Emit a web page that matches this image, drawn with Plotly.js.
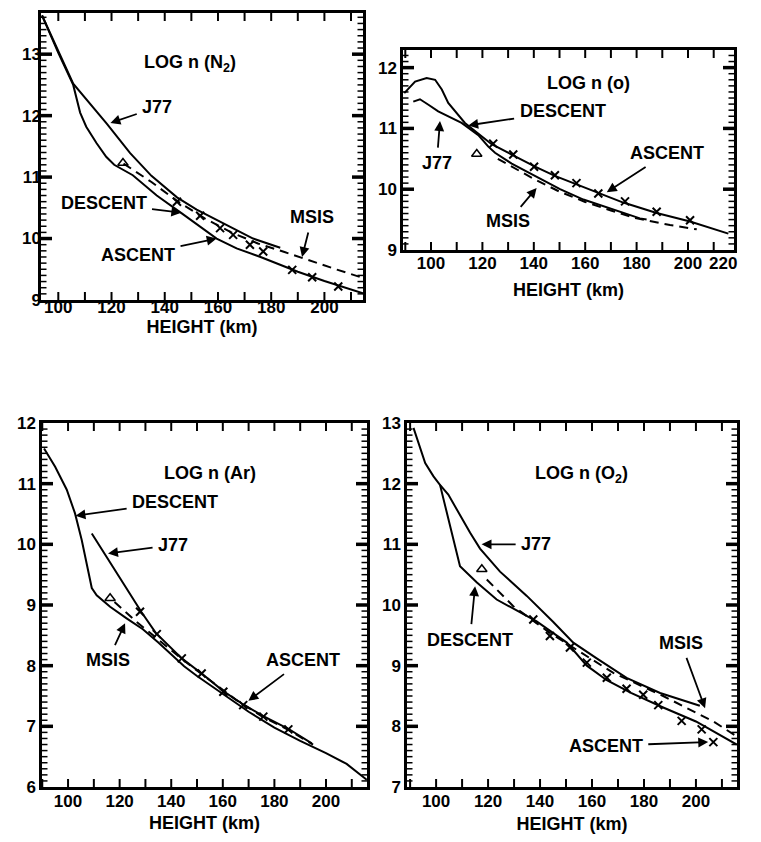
<!DOCTYPE html>
<html>
<head>
<meta charset="utf-8">
<script src="https://cdn.plot.ly/plotly-3.0.1.min.js"></script>
<style>
  html, body { margin: 0; padding: 0; background: #ffffff; }
  #chart { width: 761px; height: 842px; }
</style>
</head>
<body>
<div id="chart"></div>
<script>
// ---------------- DATA (height in km, log10 number density) ----------------
// Panel 1: LOG n(N2)
const n2DescentH = [93.9, 100, 105.6, 106.7, 108.2, 110.5, 114.4, 118, 121, 128, 137, 146.4, 153, 159.5, 167, 176, 190, 200, 214.5];
const n2DescentV = [13.63, 13.02, 12.5, 12.3, 12.05, 11.82, 11.55, 11.33, 11.2, 11.03, 10.7, 10.41, 10.2, 10.0, 9.84, 9.7, 9.46, 9.31, 9.11];
const n2J77H = [93.9, 100, 105.6, 118.2, 127, 135, 144.6, 152, 159.7, 173.2, 183.4];
const n2J77V = [13.63, 13.05, 12.52, 11.87, 11.39, 11.02, 10.67, 10.47, 10.3, 10.0, 9.85];
const n2MsisH = [124.5, 135, 145, 155, 165, 175, 185, 195, 205, 214.5];
const n2MsisV = [11.22, 10.92, 10.6, 10.33, 10.1, 9.92, 9.78, 9.63, 9.49, 9.36];
const n2AscentH = [144.6, 153.3, 160.8, 165.7, 172, 177, 187.9, 195.4, 205.2];
const n2AscentV = [10.6, 10.37, 10.17, 10.06, 9.9, 9.79, 9.49, 9.37, 9.22];
const n2TriH = [124.3];
const n2TriV = [11.23];

// Panel 2: LOG n(O)
const oDescentH = [89.6, 93.8, 98.3, 101.6, 104.2, 106.7, 113.2, 119.7, 123.6, 131.4, 140.5, 148.2, 156.7, 165.8, 174.8, 187.8, 200.8, 215.7];
const oDescentV = [11.58, 11.77, 11.83, 11.8, 11.64, 11.42, 11.09, 10.87, 10.74, 10.57, 10.37, 10.22, 10.08, 9.92, 9.78, 9.61, 9.47, 9.27];
const oJ77H = [93.1, 95.7, 99, 102.8, 111.9, 118.4, 122.3, 124.9, 131.4, 140.5, 150.2, 159.3, 169.6, 181.3, 183.9];
const oJ77V = [11.44, 11.48, 11.39, 11.28, 11.09, 10.89, 10.7, 10.6, 10.42, 10.22, 10.0, 9.83, 9.69, 9.52, 9.5];
const oMsisH = [126, 131, 140, 150, 160, 170, 180, 193, 203.4];
const oMsisV = [10.5, 10.38, 10.17, 9.96, 9.79, 9.65, 9.52, 9.41, 9.34];
const oAscentH = [124.2, 132, 140.1, 148.2, 156.6, 165.1, 175.5, 187.8, 200.8];
const oAscentV = [10.75, 10.57, 10.37, 10.23, 10.1, 9.93, 9.8, 9.63, 9.49];
const oTriH = [117.8];
const oTriV = [10.58];

// Panel 3: LOG n(Ar)
const arDescentH = [90.7, 95, 99.5, 102.7, 105.3, 107.2, 109.2, 111.1, 116.3, 122.7, 129, 135, 140, 145, 150, 160, 170, 180, 190, 200, 208, 215.8];
const arDescentV = [11.58, 11.28, 10.9, 10.51, 10.07, 9.69, 9.28, 9.16, 8.97, 8.78, 8.6, 8.38, 8.18, 7.99, 7.83, 7.54, 7.24, 6.98, 6.76, 6.56, 6.38, 6.12];
const arJ77H = [109.2, 115, 121.4, 128.5, 134, 144.1, 151.8, 160.2, 167.9, 175.7, 185.4, 194.5];
const arJ77V = [10.18, 9.8, 9.36, 8.88, 8.54, 8.12, 7.87, 7.58, 7.36, 7.17, 6.96, 6.72];
const arMsisH = [118, 126.6, 133, 145, 155, 165, 175, 185, 195];
const arMsisV = [9.05, 8.72, 8.5, 8.08, 7.76, 7.44, 7.17, 6.95, 6.7];
const arAscentH = [127.9, 134.4, 144.1, 151.8, 160.2, 167.9, 175.7, 185.4];
const arAscentV = [8.89, 8.52, 8.12, 7.87, 7.57, 7.35, 7.16, 6.95];
const arTriH = [116.3];
const arTriV = [9.11];

// Panel 4: LOG n(O2)
const o2DescentH = [91.3, 95.8, 99, 101.5, 109.2, 115.7, 123.3, 130, 138.7, 150.3, 158, 165.7, 175, 187.4, 200, 215.7];
const o2DescentV = [12.92, 12.34, 12.12, 11.98, 10.64, 10.37, 10.09, 9.93, 9.73, 9.38, 9.0, 8.76, 8.55, 8.31, 8.08, 7.7];
const o2J77H = [101.5, 104.7, 113.1, 116.9, 124.6, 134.9, 145.1, 152.8, 161.8, 173.3, 186.2, 201.5];
const o2J77V = [11.98, 11.82, 11.19, 10.93, 10.55, 10.15, 9.72, 9.38, 9.12, 8.8, 8.55, 8.34];
const o2MsisH = [119.5, 129.7, 143.8, 155.4, 168.2, 187.4, 206.7, 215.5];
const o2MsisV = [10.42, 9.98, 9.54, 9.22, 8.88, 8.5, 8.08, 7.84];
const o2AscentH = [137.4, 143.8, 151.5, 158, 165.7, 173.3, 179.7, 185.5, 194.5, 202.2, 206.7];
const o2AscentV = [9.76, 9.49, 9.3, 9.05, 8.8, 8.62, 8.52, 8.35, 8.09, 7.95, 7.74];
const o2TriH = [117.6];
const o2TriV = [10.59];

// Axis tick values / labels and texts
const xTickValues = [100, 120, 140, 160, 180, 200];
const xTickLabels = ['100', '120', '140', '160', '180', '200'];
const yTickValues = [6, 7, 8, 9, 10, 11, 12, 13];
const yTickLabels = ['6', '7', '8', '9', '10', '11', '12', '13'];
const panelTitles = ['LOG n (N<sub>2</sub>)', 'LOG n (o)', 'LOG n (Ar)', 'LOG n (O<sub>2</sub>)'];
const xTitle = 'HEIGHT (km)';

// ---------------- LAYOUT ----------------
const W = 761, H = 842, M = 1;
const FONT = 'Liberation Sans, Arial, sans-serif';
function dx(p) { return (p - M) / (W - 2 * M); }
function dy(p) { return 1 - (p - M) / (H - 2 * M); }
function bold(t) { return '<b>' + t + '</b>'; }

// frame pixel boxes, axis ranges, tick-label standoffs, axis-title standoff
const panels = [
  { px: [41, 363], py: [13, 300], xr: [93.5, 214.5], yr: [9, 13.67], xs: -10, ys: -6, ts: 0 },
  { px: [403, 734], py: [50, 250], xr: [89.1, 217.9], yr: [9, 12.29], xs: -4, ys: 0, ts: 12 },
  { px: [42, 367], py: [423, 787], xr: [89.9, 215.9], yr: [6, 12], xs: -3, ys: 0, ts: 7 },
  { px: [407, 737], py: [423, 787], xr: [88.8, 215.8], yr: [7, 13], xs: -3, ys: 0, ts: 8 }
];

const layout = {
  width: W, height: H,
  margin: { l: M, r: M, t: M, b: M },
  paper_bgcolor: '#ffffff',
  plot_bgcolor: '#ffffff',
  showlegend: false,
  font: { family: FONT, size: 17, color: '#000' },
  annotations: []
};

const data = [];

panels.forEach((p, i) => {
  const s = i === 0 ? '' : String(i + 1);
  layout['xaxis' + s] = {
    domain: [dx(p.px[0]), dx(p.px[1])], range: p.xr, anchor: 'y' + s,
    showline: true, linewidth: 2.5, linecolor: '#000', mirror: true,
    ticks: '', ticklabelstandoff: p.xs,
    tickvals: xTickValues, ticktext: xTickLabels.map(bold),
    showgrid: false, zeroline: false,
    tickfont: { family: FONT, size: 17, color: '#000' },
    title: { text: bold(xTitle), font: { family: FONT, size: 18, color: '#000' }, standoff: p.ts }
  };
  layout['yaxis' + s] = {
    domain: [dy(p.py[1]), dy(p.py[0])], range: p.yr, anchor: 'x' + s,
    showline: true, linewidth: 2.5, linecolor: '#000', mirror: true,
    ticks: '', ticklabelstandoff: p.ys,
    tickvals: yTickValues, ticktext: yTickLabels.map(bold),
    showgrid: false, zeroline: false,
    tickfont: { family: FONT, size: 17, color: '#000' }
  };

  // Inside tick marks on all four sides, drawn as short line segments from the frame inward.
  // Lengths are given in pixels and converted to data units with the axis scale.
  const xa = 'x' + s, ya = 'y' + s;
  const kx = (p.px[1] - p.px[0]) / (p.xr[1] - p.xr[0]);   // px per km
  const ky = (p.py[1] - p.py[0]) / (p.yr[1] - p.yr[0]);   // px per log unit
  const xt = [];
  for (let h = 90; h <= 220; h += 10) if (h > p.xr[0] && h < p.xr[1]) xt.push(h);
  const minorT = [], majorT = [];
  for (let k = Math.ceil(p.yr[0] * 10 + 1e-6); k <= Math.floor(p.yr[1] * 10 - 1e-6); k++) {
    if (k % 10 === 0) majorT.push(k / 10); else minorT.push(k / 10);
  }
  function segTrace(xs, ys, w) {
    data.push({ x: xs, y: ys, xaxis: xa, yaxis: ya, mode: 'lines', hoverinfo: 'skip',
      connectgaps: false, line: { color: '#000', width: w } });
  }
  function xTicks(lenPx, w) {
    const X = [], Y = [];
    const d = lenPx / ky;
    xt.forEach(h => {
      X.push(h, h, null); Y.push(p.yr[0], p.yr[0] + d, null);
      X.push(h, h, null); Y.push(p.yr[1], p.yr[1] - d, null);
    });
    segTrace(X, Y, w);
  }
  function yTicks(vals, lenPx, w) {
    const X = [], Y = [];
    const d = lenPx / kx;
    vals.forEach(v => {
      X.push(p.xr[0], p.xr[0] + d, null); Y.push(v, v, null);
      X.push(p.xr[1], p.xr[1] - d, null); Y.push(v, v, null);
    });
    segTrace(X, Y, w);
  }
  xTicks(8, 2);
  yTicks(minorT, 5.5, 1.5);
  yTicks(majorT, 11, 3.5);
});

// ---------------- CURVES ----------------
function addPanel(k, desc, j77, msis, asc, tri) {
  const xa = 'x' + (k === 0 ? '' : k + 1), ya = 'y' + (k === 0 ? '' : k + 1);
  data.push({ x: desc[0], y: desc[1], xaxis: xa, yaxis: ya, mode: 'lines', name: 'DESCENT',
              line: { color: '#000', width: 2 } });
  data.push({ x: j77[0], y: j77[1], xaxis: xa, yaxis: ya, mode: 'lines', name: 'J77',
              line: { color: '#000', width: 2 } });
  data.push({ x: msis[0], y: msis[1], xaxis: xa, yaxis: ya, mode: 'lines', name: 'MSIS',
              line: { color: '#000', width: 2, dash: '9px,6px' } });
  data.push({ x: asc[0], y: asc[1], xaxis: xa, yaxis: ya, mode: 'markers', name: 'ASCENT',
              marker: { symbol: 'x-thin', size: 8, line: { color: '#000', width: 2 } } });
  data.push({ x: tri[0], y: tri[1], xaxis: xa, yaxis: ya, mode: 'markers', name: 'triangle',
              marker: { symbol: 'triangle-up-open', size: 9, color: '#000', line: { color: '#000', width: 1.5 } } });
}
addPanel(0, [n2DescentH, n2DescentV], [n2J77H, n2J77V], [n2MsisH, n2MsisV], [n2AscentH, n2AscentV], [n2TriH, n2TriV]);
addPanel(1, [oDescentH, oDescentV], [oJ77H, oJ77V], [oMsisH, oMsisV], [oAscentH, oAscentV], [oTriH, oTriV]);
addPanel(2, [arDescentH, arDescentV], [arJ77H, arJ77V], [arMsisH, arMsisV], [arAscentH, arAscentV], [arTriH, arTriV]);
addPanel(3, [o2DescentH, o2DescentV], [o2J77H, o2J77V], [o2MsisH, o2MsisV], [o2AscentH, o2AscentV], [o2TriH, o2TriV]);

// ---------------- LABELS ----------------
function label(k, text, x, y) {
  const s = k === 0 ? '' : String(k + 1);
  layout.annotations.push({ xref: 'x' + s, yref: 'y' + s, x: x, y: y, text: bold(text), showarrow: false,
    font: { family: FONT, size: 18, color: '#000' } });
}
// text centred at (tx, ty) with an arrow pointing to (px, py)
function pointer(k, text, tx, ty, px, py) {
  const s = k === 0 ? '' : String(k + 1);
  layout.annotations.push({ xref: 'x' + s, yref: 'y' + s, axref: 'x' + s, ayref: 'y' + s,
    x: px, y: py, ax: tx, ay: ty, text: bold(text), showarrow: true,
    arrowhead: 2, arrowsize: 1.1, arrowwidth: 1.8, arrowcolor: '#000', standoff: 0, startstandoff: 4,
    font: { family: FONT, size: 18, color: '#000' } });
}
// Panel 1
label(0, panelTitles[0], 149.5, 12.85);
pointer(0, 'J77', 137.1, 12.14, 119.6, 11.88);
pointer(0, 'DESCENT', 117, 10.58, 146.2, 10.42);
pointer(0, 'ASCENT', 130, 9.73, 159.5, 10.0);
pointer(0, 'MSIS', 195.4, 10.35, 191.6, 9.7);
// Panel 2
label(1, panelTitles[1], 161.2, 11.75);
pointer(1, 'DESCENT', 151.2, 11.28, 114.5, 11.05);
pointer(1, 'J77', 102.2, 10.43, 103.5, 11.12);
pointer(1, 'ASCENT', 191.7, 10.59, 168.4, 9.95);
pointer(1, 'MSIS', 130.1, 9.47, 141.1, 10.02);
// Panel 3
label(2, panelTitles[2], 155, 11.17);
pointer(2, 'DESCENT', 141.5, 10.7, 102.9, 10.47);
pointer(2, 'J77', 140.7, 9.99, 115.5, 9.85);
pointer(2, 'MSIS', 115.5, 8.09, 122.1, 8.7);
pointer(2, 'ASCENT', 190.9, 8.09, 169.9, 7.42);
// Panel 4
label(3, panelTitles[3], 155.8, 12.15);
pointer(3, 'J77', 138.5, 11.0, 117.5, 11.0);
pointer(3, 'DESCENT', 113, 9.43, 115, 10.31);
pointer(3, 'MSIS', 194.2, 9.38, 203.5, 8.3);
pointer(3, 'ASCENT', 165.3, 7.68, 204.7, 7.74);

// "220" tick label of panel 2, which sits just past the frame edge
(function () {
  const p = panels[1];
  const d0 = dx(p.px[0]), d1 = dx(p.px[1]);
  const xp = d0 + (220 - p.xr[0]) / (p.xr[1] - p.xr[0]) * (d1 - d0);
  layout.annotations.push({ xref: 'paper', yref: 'paper', x: xp, y: dy(263), yanchor: 'middle',
    text: bold('220'), showarrow: false, font: { family: FONT, size: 17, color: '#000' } });
})();

Plotly.newPlot('chart', data, layout, { displayModeBar: false });
</script>
</body>
</html>
